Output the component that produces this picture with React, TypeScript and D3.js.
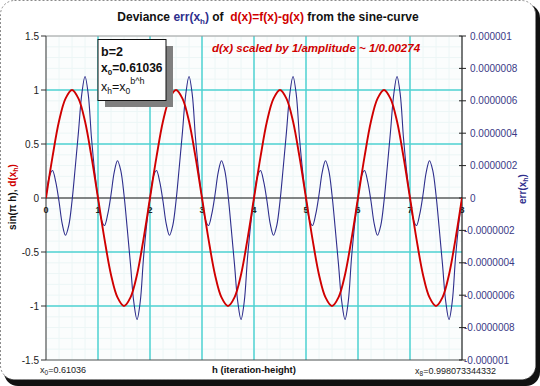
import React from 'react';
import * as d3 from 'd3';

const W = 540;
const H = 386;

// sampled h positions: d(x) every 0.125, err every 0.0625
const D_STEP = 0.125;
const ERR_STEP = 0.0625;

// d(x) scaled by 1/amplitude (left axis units)
const dScaled = [
  0, 0.38, 0.71, 0.92, 1.0, 0.92, 0.71, 0.38, 0, -0.38, -0.71, -0.92, -1.0, -0.92, -0.71, -0.38,
  0, 0.38, 0.71, 0.92, 1.0, 0.92, 0.71, 0.38, 0, -0.38, -0.71, -0.92, -1.0, -0.92, -0.71, -0.38,
  0, 0.38, 0.71, 0.92, 1.0, 0.92, 0.71, 0.38, 0, -0.38, -0.71, -0.92, -1.0, -0.92, -0.71, -0.38,
  0, 0.38, 0.71, 0.92, 1.0, 0.92, 0.71, 0.38, 0, -0.38, -0.71, -0.92, -1.0, -0.92, -0.71, -0.38,
  0,
];

// err(x_h) in units of 1e-7 (right axis)
const ERR_UNIT = 1e-7;
const errValues = [
  0, 1.3, 1.7, 1.0, -0.2, -1.6, -2.3, -1.7, -0.2, 1.9, 4.1, 6.4, 7.5, 6.4, 3.7, 1.6,
  0, -1.3, -1.7, -1.0, 0.2, 1.6, 2.3, 1.7, 0.2, -1.9, -4.1, -6.4, -7.5, -6.4, -3.7, -1.6,
  0, 1.3, 1.7, 1.0, -0.2, -1.6, -2.3, -1.7, -0.2, 1.9, 4.1, 6.4, 7.5, 6.4, 3.7, 1.6,
  0, -1.3, -1.7, -1.0, 0.2, 1.6, 2.3, 1.7, 0.2, -1.9, -4.1, -6.4, -7.5, -6.4, -3.7, -1.6,
  0, 1.3, 1.7, 1.0, -0.2, -1.6, -2.3, -1.7, -0.2, 1.9, 4.1, 6.4, 7.5, 6.4, 3.7, 1.6,
  0, -1.3, -1.7, -1.0, 0.2, 1.6, 2.3, 1.7, 0.2, -1.9, -4.1, -6.4, -7.5, -6.4, -3.7, -1.6,
  0, 1.3, 1.7, 1.0, -0.2, -1.6, -2.3, -1.7, -0.2, 1.9, 4.1, 6.4, 7.5, 6.4, 3.7, 1.6,
  0, -1.3, -1.7, -1.0, 0.2, 1.6, 2.3, 1.7, 0.2, -1.9, -4.1, -6.4, -7.5, -6.4, -3.7, -1.6,
  0,
];

const hTicks = [0, 1, 2, 3, 4, 5, 6, 7, 8];
const leftTicks = [1.5, 1, 0.5, 0, -0.5, -1, -1.5];
const leftTickLabels = ['1.5', '1', '0.5', '0', '-0.5', '-1', '-1.5'];
const rightTicks = [1e-6, 8e-7, 6e-7, 4e-7, 2e-7, 0, -2e-7, -4e-7, -6e-7, -8e-7, -1e-6];
const rightTickLabels = [
  '0.000001', '0.0000008', '0.0000006', '0.0000004', '0.0000002', '0',
  '-0.0000002', '-0.0000004', '-0.0000006', '-0.0000008', '-0.000001',
];
const majorGridY = [1, 0.5, -0.5, -1];
const minorGridX = d3.range(0, 8.001, 0.25);
const minorGridY = d3.range(-1.5, 1.501, 0.1);

const FONT = 'Liberation Sans, Arial, Helvetica, sans-serif';
const RED = '#d00000';
const BLUE = '#2e2e8c';
const GRID = '#4fd2d2';

export default function App() {
  const x = d3.scaleLinear().domain([0, 8]).range([46, 462]);
  const yL = d3.scaleLinear().domain([-1.5, 1.5]).range([360, 36]);
  const yR = d3.scaleLinear().domain([-1e-6, 1e-6]).range([360, 36]);

  const dLine = d3
    .line<number>()
    .x((_, i) => x(i * D_STEP))
    .y((v) => yL(v))
    .curve(d3.curveCatmullRom.alpha(0.5));
  const errLine = d3
    .line<number>()
    .x((_, i) => x(i * ERR_STEP))
    .y((v) => yR(v * ERR_UNIT))
    .curve(d3.curveCatmullRom.alpha(0.5));

  const [x0, x1] = x.range();
  const [yb, yt] = yL.range();

  return (
    <svg
      width={W}
      height={H}
      style={{ position: 'fixed', left: 0, top: 0, display: 'block' }}
      fontFamily={FONT}
    >
      <rect x={0} y={0} width={W} height={H} fill="#ffffff" />
      <rect x={4} y={4} width={536} height={382} rx={14} fill="#111111" />
      <rect
        x={0.5}
        y={0.5}
        width={535}
        height={379}
        rx={14}
        fill="#ffffff"
        stroke="#8a8a8a"
        strokeDasharray="2,2"
      />

      {/* Title */}
      <text x={268} y={21} textAnchor="middle" fontSize={12} fontWeight="bold" fill="#111">
        {'Deviance '}
        <tspan fill={BLUE}>
          err(x<tspan fontSize={8} dy={3}>h</tspan>
          <tspan dy={-3}>)</tspan>
        </tspan>
        <tspan>{' of\u00A0 '}</tspan>
        <tspan fill={RED}>d(x)=f(x)-g(x)</tspan>
        <tspan> from the sine-curve</tspan>
      </text>

      {/* plot background */}
      <defs>
        <clipPath id="plotclip">
          <rect x={x0} y={yt} width={x1 - x0} height={yb - yt} />
        </clipPath>
      </defs>
      <rect x={x0} y={yt} width={x1 - x0} height={yb - yt} fill="#fbfdfd" />
      {minorGridX.map((v, i) => (
        <line key={'mx' + i} x1={x(v)} x2={x(v)} y1={yt} y2={yb} stroke="#ecf6f6" strokeWidth={1} />
      ))}
      {minorGridY.map((v, i) => (
        <line key={'my' + i} x1={x0} x2={x1} y1={yL(v)} y2={yL(v)} stroke="#ecf6f6" strokeWidth={1} />
      ))}
      {hTicks.slice(1, -1).map((v) => (
        <line key={'gx' + v} x1={x(v)} x2={x(v)} y1={yt} y2={yb} stroke={GRID} strokeWidth={1.5} />
      ))}
      {majorGridY.map((v) => (
        <line key={'gy' + v} x1={x0} x2={x1} y1={yL(v)} y2={yL(v)} stroke={GRID} strokeWidth={1.5} />
      ))}

      {/* plot border */}
      <line x1={x0} x2={x1} y1={yt} y2={yt} stroke="#9a9a9a" strokeWidth={1} />
      <line x1={x0} x2={x1} y1={yb} y2={yb} stroke="#555" strokeWidth={1} />
      <line x1={x0} x2={x0} y1={yt} y2={yb} stroke="#555" strokeWidth={1.2} />
      <line x1={x1} x2={x1} y1={yt} y2={yb} stroke="#222" strokeWidth={1.2} />

      {/* zero line */}
      <line x1={x0} x2={x1} y1={yL(0)} y2={yL(0)} stroke="#111" strokeWidth={1.2} />

      {/* left ticks */}
      {leftTicks.map((v, i) => (
        <g key={'lt' + i}>
          <line x1={x0 - 5} x2={x0} y1={yL(v)} y2={yL(v)} stroke="#333" />
          <text x={39} y={yL(v)} dy="0.35em" textAnchor="end" fontSize={10} fill="#222">
            {leftTickLabels[i]}
          </text>
        </g>
      ))}

      {/* right ticks */}
      {rightTicks.map((v, i) => (
        <g key={'rt' + i}>
          <line x1={x1 - 3} x2={x1 + 4} y1={yR(v)} y2={yR(v)} stroke="#222" />
          <text
            x={v < 0 ? 464 : 470}
            y={yR(v)}
            dy="0.35em"
            textAnchor="start"
            fontSize={10}
            fill="#3a3a86"
          >
            {rightTickLabels[i]}
          </text>
        </g>
      ))}

      {/* h labels on zero line */}
      {hTicks.map((v) => (
        <text key={'hx' + v} x={x(v)} y={213} textAnchor="middle" fontSize={9} fontWeight="bold" fill="#222">
          {v}
        </text>
      ))}

      {/* curves */}
      <g clipPath="url(#plotclip)">
        <path d={errLine(errValues) || ''} fill="none" stroke={BLUE} strokeWidth={1.1} />
        <path d={dLine(dScaled) || ''} fill="none" stroke={RED} strokeWidth={1.9} />
      </g>

      {/* legend box */}
      <rect x={105} y={46} width={68} height={61} fill="#7f7f7f" />
      <rect x={98} y={39.5} width={68} height={61} fill="#ffffff" stroke="#111" strokeWidth={1} />
      <text x={101} y={56} fontSize={12.5} fontWeight="bold" fill="#111">b=2</text>
      <text x={101} y={72} fontSize={12} fontWeight="bold" fill="#111">
        x<tspan fontSize={8} dy={3}>0</tspan>
        <tspan dy={-3}>=0.61036</tspan>
      </text>
      <text x={101} y={91} fontSize={12.5} fill="#111">
        x<tspan fontSize={8.5} dy={3}>h</tspan>
        <tspan dy={-3}>=x</tspan>
        <tspan fontSize={8.5} dy={3}>0</tspan>
        <tspan fontSize={9} dy={-10}>{'b^h'}</tspan>
      </text>

      {/* annotation */}
      <text x={212} y={52} fontSize={11.5} fontWeight="bold" fontStyle="italic" fill={RED}>
        d(x) scaled by 1/amplitude ~ 1/0.00274
      </text>

      {/* axis titles */}
      <text
        transform={`translate(16, 197) rotate(-90)`}
        textAnchor="middle"
        fontSize={10}
        fontWeight="bold"
        fill="#111"
      >
        {'sin(π h), '}
        <tspan fill={RED}>
          d(x<tspan fontSize={7} dy={2}>h</tspan>
          <tspan dy={-2}>)</tspan>
        </tspan>
      </text>
      <text
        transform={`translate(526, 189) rotate(-90)`}
        textAnchor="middle"
        fontSize={10}
        fontWeight="bold"
        fill={BLUE}
      >
        err(x<tspan fontSize={7} dy={2}>h</tspan>
        <tspan dy={-2}>)</tspan>
      </text>

      {/* bottom labels */}
      <text x={40} y={373} fontSize={9} fill="#222">
        x<tspan fontSize={6.5} dy={2}>0</tspan>
        <tspan dy={-2}>=0.61036</tspan>
      </text>
      <text x={254} y={373} textAnchor="middle" fontSize={9.5} fontWeight="bold" fill="#111">
        h (iteration-height)
      </text>
      <text x={415} y={374} fontSize={9} fill="#222">
        x<tspan fontSize={6.5} dy={2}>8</tspan>
        <tspan dy={-2}>=0.998073344332</tspan>
      </text>
    </svg>
  );
}
